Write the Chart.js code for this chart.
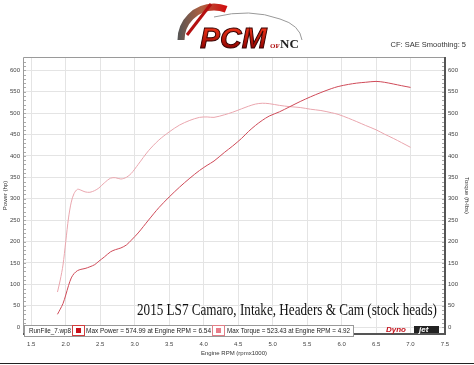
<!DOCTYPE html>
<html>
<head>
<meta charset="utf-8">
<script src="https://cdn.jsdelivr.net/npm/chart.js@4.4.1/dist/chart.umd.min.js"></script>
<style>
  html, body { margin: 0; padding: 0; background: #fff; }
  #wrap { width: 474px; height: 365px; }
</style>
</head>
<body>
<div id="wrap"><canvas id="dyno" width="474" height="365"></canvas></div>
<script>
// engine speed (rpm x1000) shared by both runs
const rpm = [1.88, 1.92, 1.96, 2.00, 2.04, 2.08, 2.12, 2.17, 2.22, 2.28, 2.35, 2.42, 2.48, 2.56, 2.65,
  2.72, 2.80, 2.88, 2.95, 3.05, 3.20, 3.35, 3.50, 3.65, 3.80, 3.94, 4.05, 4.15, 4.30, 4.42, 4.55, 4.65,
  4.75, 4.85, 4.95, 5.10, 5.25, 5.40, 5.55, 5.70, 5.85, 5.95, 6.10, 6.22, 6.35, 6.50, 6.62, 6.75, 6.87, 7.00];

const power = [30, 42, 55, 75, 97, 115, 125, 132, 135, 137, 141, 146, 154, 164, 176,
  181, 185, 192, 203, 220, 250, 279, 304, 327, 348, 366, 378, 388, 408, 423, 441, 457,
  471, 483, 493, 503, 515, 527, 538, 548, 557, 562, 567, 570, 572, 574, 572, 568, 564, 560];

const torque = [82, 110, 145, 200, 255, 292, 312, 322, 320, 316, 315, 319, 325, 337, 348,
  349, 346, 350, 359, 380, 412, 437, 456, 472, 483, 490, 491, 490, 496, 502, 510, 516,
  521, 523, 522, 518, 515, 513, 509, 506, 501, 497, 488, 480, 471, 461, 451, 441, 431, 420];

const rpmTicks = [1.5, 2.0, 2.5, 3.0, 3.5, 4.0, 4.5, 5.0, 5.5, 6.0, 6.5, 7.0, 7.5];
const valueTicks = [0, 50, 100, 150, 200, 250, 300, 350, 400, 450, 500, 550, 600];

const runName = 'RunFile_7.wp8';
const maxPowerText = 'Max Power = 574.99 at Engine RPM = 6.54';
const maxTorqueText = 'Max Torque = 523.43 at Engine RPM = 4.92';
const runTitle = '2015 LS7 Camaro, Intake, Headers & Cam (stock heads)';

const powerColor = '#cf4a58';
const torqueColor = '#eaa6ae';
const tickFont = { family: 'Liberation Sans', size: 6 };

const decor = {
  id: 'decor',
  afterDraw(chart) {
    const ctx = chart.ctx;
    const a = chart.chartArea;
    const yl = chart.scales.y;
    ctx.save();

    // minor ticks every 10
    ctx.strokeStyle = '#aaa';
    ctx.lineWidth = 1;
    for (let v = 0; v <= 620; v += 10) {
      const py = Math.round(yl.getPixelForValue(v)) + 0.5;
      ctx.beginPath();
      ctx.moveTo(a.left, py); ctx.lineTo(a.left + 3, py);
      ctx.moveTo(a.right, py); ctx.lineTo(a.right - 3, py);
      ctx.stroke();
    }

    // frame
    ctx.strokeStyle = '#9a9a9a';
    ctx.beginPath();
    ctx.moveTo(a.left + 0.5, a.bottom); ctx.lineTo(a.left + 0.5, a.top + 0.5); ctx.lineTo(a.right, a.top + 0.5);
    ctx.stroke();
    ctx.strokeStyle = '#555';
    ctx.lineWidth = 2;
    ctx.beginPath();
    ctx.moveTo(a.right, a.top); ctx.lineTo(a.right, a.bottom); ctx.lineTo(a.left, a.bottom);
    ctx.stroke();

    // run title
    ctx.fillStyle = '#111';
    ctx.font = '16px "Liberation Serif"';
    ctx.textBaseline = 'alphabetic';
    ctx.fillText(runTitle, 137, 315, 300);

    // legend strip
    const lx = 24, ly = 325, lw = 329, lh = 11;
    ctx.fillStyle = '#fff';
    ctx.fillRect(lx, ly, lw, lh);
    ctx.strokeStyle = '#999';
    ctx.lineWidth = 1;
    ctx.strokeRect(lx + 0.5, ly + 0.5, lw, lh);
    ctx.font = '6.5px "Liberation Sans"';
    ctx.fillStyle = '#222';
    ctx.fillText(runName, 29, 333, 42);
    ctx.strokeStyle = '#d04040';
    ctx.strokeRect(72.5, 325.5, 12, 10);
    ctx.fillStyle = '#c8101a';
    ctx.fillRect(76, 328, 5, 5);
    ctx.fillStyle = '#222';
    ctx.fillText(maxPowerText, 86, 333, 125);
    ctx.strokeStyle = '#e08088';
    ctx.strokeRect(212.5, 325.5, 12, 10);
    ctx.fillStyle = '#e87c88';
    ctx.fillRect(216, 328, 5, 5);
    ctx.fillStyle = '#222';
    ctx.fillText(maxTorqueText, 227, 333, 123);

    // dynojet mark
    ctx.font = 'italic bold 8px "Liberation Sans"';
    ctx.fillStyle = '#c4121c';
    ctx.fillText('Dyno', 386, 332, 26);
    ctx.fillStyle = '#222';
    ctx.fillRect(414, 326, 25, 7);
    ctx.fillStyle = '#fff';
    ctx.fillText('jet', 419, 332);

    // header: CF text
    ctx.font = '7.5px "Liberation Sans"';
    ctx.fillStyle = '#333';
    ctx.textAlign = 'right';
    ctx.fillText('CF: SAE Smoothing: 5', 466, 47);
    ctx.textAlign = 'left';

    // header: logo
    const g = ctx.createLinearGradient(178, 0, 225, 0);
    g.addColorStop(0, '#555');
    g.addColorStop(0.5, '#b06040');
    g.addColorStop(1, '#d01010');
    ctx.strokeStyle = g;
    ctx.lineWidth = 7;
    ctx.beginPath();
    ctx.arc(214, 40, 33, Math.PI * 1.0, Math.PI * 1.62);
    ctx.stroke();
    ctx.strokeStyle = '#b51010';
    ctx.lineWidth = 3;
    ctx.beginPath();
    ctx.moveTo(187, 35); ctx.lineTo(211, 4);
    ctx.stroke();
    ctx.strokeStyle = '#999';
    ctx.lineWidth = 1;
    ctx.beginPath();
    ctx.moveTo(214, 17);
    ctx.quadraticCurveTo(250, 8, 280, 19);
    ctx.quadraticCurveTo(300, 25, 302, 40);
    ctx.stroke();
    const tg = ctx.createLinearGradient(0, 24, 0, 50);
    tg.addColorStop(0, '#ff3a1a');
    tg.addColorStop(1, '#8a0000');
    ctx.font = 'italic bold 30px "Liberation Sans"';
    ctx.fillStyle = tg;
    ctx.strokeStyle = '#300';
    ctx.lineWidth = 1;
    ctx.fillText('PCM', 200, 48, 70);
    ctx.strokeText('PCM', 200, 48, 70);
    ctx.font = 'bold 7px "Liberation Serif"';
    ctx.fillStyle = '#b01010';
    ctx.fillText('OF', 270, 48);
    ctx.font = 'bold 13px "Liberation Serif"';
    ctx.fillStyle = '#222';
    ctx.fillText('NC', 280, 48);

    // bottom rule
    ctx.fillStyle = '#222';
    ctx.fillRect(0, 363, 474, 1);
    ctx.restore();
  }
};

const pts = vals => rpm.map((r, i) => ({ x: r, y: vals[i] }));

new Chart(document.getElementById('dyno'), {
  type: 'line',
  data: {
    datasets: [
      { label: 'Power', data: pts(power), yAxisID: 'y', borderColor: powerColor, borderWidth: 1, pointRadius: 0, tension: 0.3 },
      { label: 'Torque', data: pts(torque), yAxisID: 'y1', borderColor: torqueColor, borderWidth: 1, pointRadius: 0, tension: 0.3 }
    ]
  },
  options: {
    responsive: false,
    animation: false,
    layout: { padding: { top: 57, left: 0, right: 0, bottom: 0 } },
    plugins: { legend: { display: false }, tooltip: { enabled: false } },
    scales: {
      x: {
        type: 'linear', min: 1.38, max: 7.5,
        afterBuildTicks: s => { s.ticks = rpmTicks.map(v => ({ value: v })); },
        afterFit: s => { s.height = 31; },
        grid: { color: '#e4e4e4', drawTicks: false },
        border: { display: false },
        ticks: { font: tickFont, color: '#444', padding: 7, maxRotation: 0, callback: v => v.toFixed(1) },
        title: { display: true, text: 'Engine RPM (rpmx1000)', font: tickFont, color: '#333', padding: { top: 0, bottom: 8 } }
      },
      y: {
        position: 'left', min: -16, max: 631,
        afterBuildTicks: s => { s.ticks = valueTicks.map(v => ({ value: v })); },
        afterFit: s => { s.width = 23; },
        grid: { color: '#e4e4e4', drawTicks: false },
        border: { display: false },
        ticks: { font: tickFont, color: '#444', padding: 3 },
        title: { display: true, text: 'Power (hp)', font: tickFont, color: '#333', padding: 2 }
      },
      y1: {
        position: 'right', min: -16, max: 631,
        afterBuildTicks: s => { s.ticks = valueTicks.map(v => ({ value: v })); },
        afterFit: s => { s.width = 29; },
        grid: { display: false, drawTicks: false },
        border: { display: false },
        ticks: { font: tickFont, color: '#444', padding: 3 },
        title: { display: true, text: 'Torque (ft-lbs)', font: tickFont, color: '#333', padding: 4 }
      }
    }
  },
  plugins: [decor]
});
</script>
</body>
</html>
